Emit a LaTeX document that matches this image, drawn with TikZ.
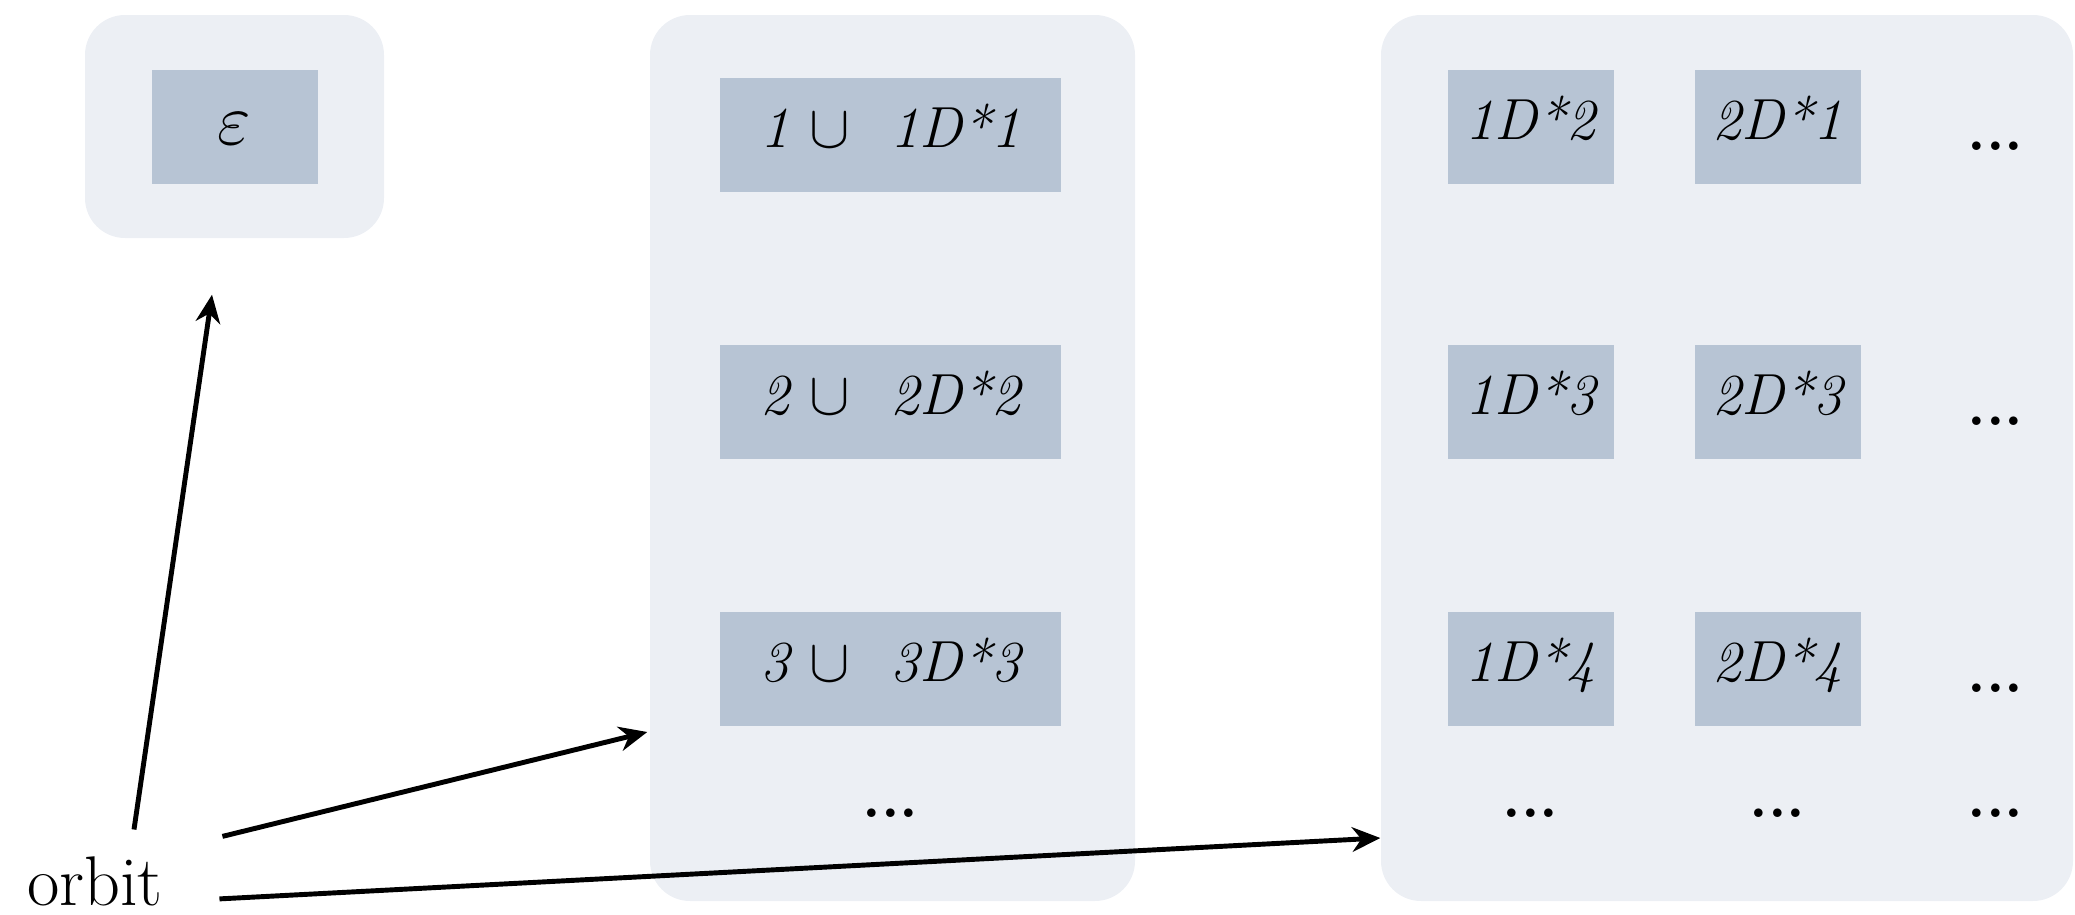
\documentclass[tikz,border=0pt]{standalone}
\usepackage{amsmath, amssymb}
\usepackage{tikz}
\usetikzlibrary{arrows.meta, positioning}
\usepackage{xcolor}
\definecolor{groupbg}{HTML}{ECEFF4}
\definecolor{cellbg}{HTML}{B7C4D4}

\begin{document}
\begin{tikzpicture}[node distance=2.67cm,on grid,auto]
    \tikzstyle{group}=[shape=rectangle,fill=groupbg,rounded corners=0.4cm,inner sep=0pt]
    \tikzstyle{cell}=[shape=rectangle,fill=cellbg,minimum width=1.66cm,minimum height=1.14cm,text height=0.7em,text depth=0pt,font=\fontsize{16.5}{19}\selectfont\itshape]
    \tikzstyle{wide}=[cell,minimum width=3.41cm]
    \tikzstyle{etc}=[cell,fill=none,yshift=-0.11cm,font=\fontsize{17}{19}\selectfont\bfseries]
    \tikzstyle{link}=[-{Stealth[length=8pt,width=7pt]},line width=1.4pt]

    \useasboundingbox (0,0) rectangle (20.75,-9.15);

    % groups
    \node[group,minimum width=2.99cm,minimum height=2.23cm] (G0) at (2.345,-1.265) {};
    \node[group,minimum width=4.85cm,minimum height=8.86cm] (G1) at (8.925,-4.58) {};
    \node[group,minimum width=6.92cm,minimum height=8.86cm] (G2) at (17.27,-4.58) {};

    \node[cell,text height=0.97em,font=\fontsize{21}{24}\selectfont] (E) at (2.345,-1.27) {$\varepsilon$};

    \node[wide] (M1) at (8.905,-1.35) {1 $\cup$\ \ 1D*1};
    \node[wide, below of=M1] (M2) {2 $\cup$\ \ 2D*2};
    \node[wide, below of=M2] (M3) {3 $\cup$\ \ 3D*3};
    \node[etc, below of=M3, node distance=1.25cm] (M4) {...};

    \node[cell] (R1a) at (15.305,-1.27) {1D*2};
    \node[cell, right of=R1a, node distance=2.47cm] (R1b) {2D*1};
    \node[etc, right of=R1b, node distance=2.18cm] (R1c) {...};
    \node[cell, below of=R1a, node distance=2.75cm] (R2a) {1D*3};
    \node[cell, right of=R2a, node distance=2.47cm] (R2b) {2D*3};
    \node[etc, right of=R2b, node distance=2.18cm] (R2c) {...};
    \node[cell, below of=R2a] (R3a) {1D*4};
    \node[cell, right of=R3a, node distance=2.47cm] (R3b) {2D*4};
    \node[etc, right of=R3b, node distance=2.18cm] (R3c) {...};
    \node[etc, below of=R3a, node distance=1.25cm] (R4a) {...};
    \node[etc, below of=R3b, node distance=1.25cm] (R4b) {...};
    \node[etc, below of=R3c, node distance=1.14cm] (R4c) {...};

    \node[anchor=base,inner sep=0pt,font=\fontsize{20}{24}\selectfont] (orbit) at (0.95,-9.05) {orbit};

    \path[link]
    ([xshift=0.39cm,yshift=0.26cm]orbit.north) edge ([xshift=-0.225cm,yshift=-0.56cm]G0.south)
    ([xshift=0.59cm,yshift=0.445cm]orbit.east) edge ([xshift=-0.02cm,yshift=-2.74cm]G1.west)
    ([xshift=0.56cm,yshift=-0.18cm]orbit.east) edge ([yshift=-3.8cm]G2.west)
   ;

  \end{tikzpicture}
\end{document}
